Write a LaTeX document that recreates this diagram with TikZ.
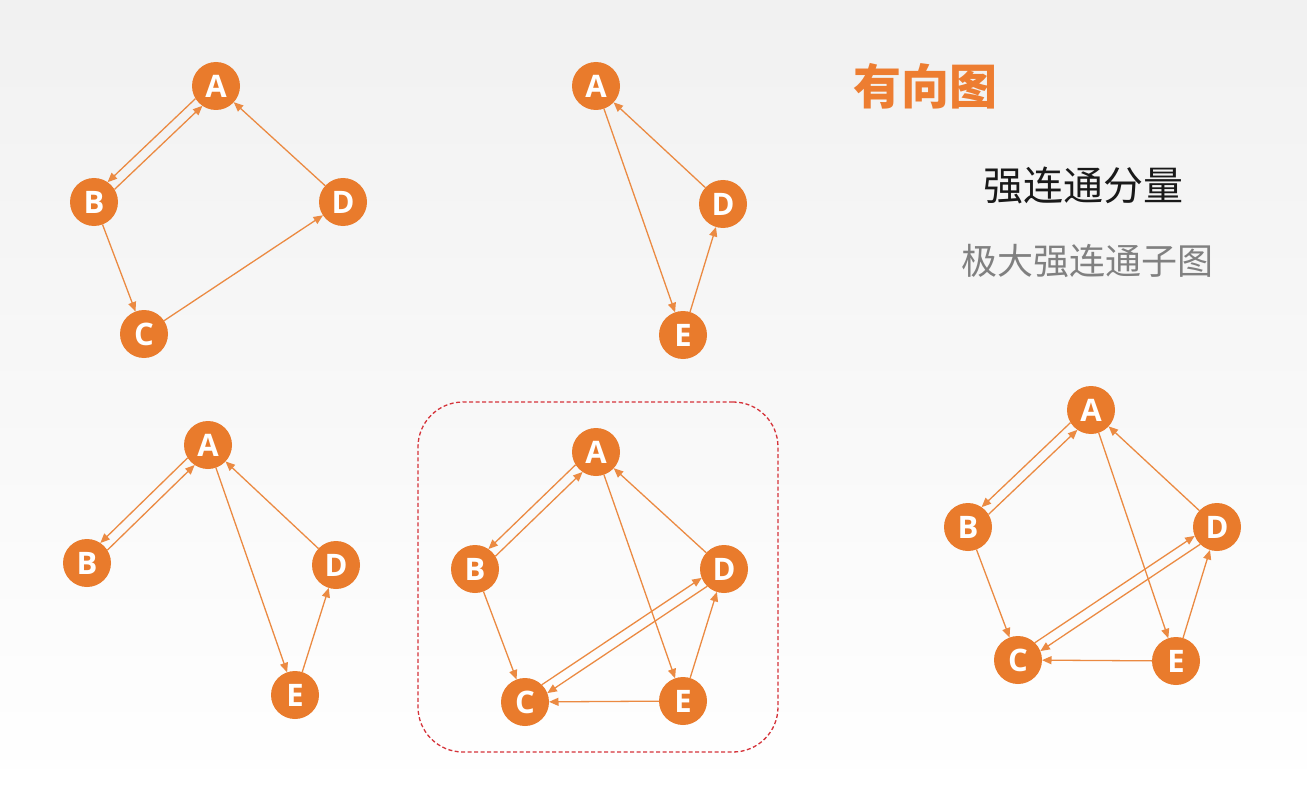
\documentclass[tikz,border=0pt]{standalone}
\usepackage{fontspec}
\usetikzlibrary{arrows.meta,calc}
\newfontfamily\latfont{Open Sans}
\newfontfamily\cjkfont{Noto Sans CJK SC}
\definecolor{nodeor}{HTML}{E97B2C}
\definecolor{lineor}{HTML}{EB8A42}
\definecolor{titleor}{HTML}{ED7D31}
\definecolor{boxred}{HTML}{D5333A}
\definecolor{subgray}{HTML}{808080}
\tikzset{
  gnode/.style={circle, fill=nodeor, minimum size=48pt, inner sep=0pt, outer sep=0pt,
    text=white, font=\latfont\bfseries\fontsize{31}{31}\selectfont},
  edge/.style={draw=lineor, line width=1.3pt, -{Triangle[length=9.5pt,width=8pt]}},
  sedge/.style={edge, shorten <=23.5pt, shorten >=23.5pt},
}
\begin{document}
\begin{tikzpicture}[x=1pt,y=-1pt]
\shade[top color=gray!11, bottom color=white] (0,0) rectangle (1307,797);
\useasboundingbox (0,0) rectangle (1307,797);

% Graph 1
\node[gnode] (a1) at (216,86) {A};
\node[gnode] (b1) at (94,202) {B};
\node[gnode] (c1) at (144,334) {C};
\node[gnode] (d1) at (343,202) {D};
\draw[sedge] ($(a1)!5pt!-90:(b1)$) -- ($(b1)!5pt!90:(a1)$);
\draw[sedge] ($(b1)!5pt!-90:(a1)$) -- ($(a1)!5pt!90:(b1)$);
\draw[edge] (b1) -- (c1);
\draw[edge] (c1) -- (d1);
\draw[edge] (d1) -- (a1);

% Graph 2
\node[gnode] (a2) at (596,86) {A};
\node[gnode] (d2) at (723,204) {D};
\node[gnode] (e2) at (683,335) {E};
\draw[edge] (a2) -- (e2);
\draw[edge] (e2) -- (d2);
\draw[edge] (d2) -- (a2);

% Graph 3
\node[gnode] (a3) at (208,445) {A};
\node[gnode] (b3) at (87,563) {B};
\node[gnode] (d3) at (336,565) {D};
\node[gnode] (e3) at (295,695) {E};
\draw[sedge] ($(a3)!5pt!-90:(b3)$) -- ($(b3)!5pt!90:(a3)$);
\draw[sedge] ($(b3)!5pt!-90:(a3)$) -- ($(a3)!5pt!90:(b3)$);
\draw[edge] (a3) -- (e3);
\draw[edge] (e3) -- (d3);
\draw[edge] (d3) -- (a3);

% Graph 4 (boxed)
\node[draw=boxred, dashed, dash pattern=on 4pt off 2.5pt, line width=1.3pt, rounded corners=45pt,
  minimum width=360pt, minimum height=350pt, inner sep=0pt] (box) at (598,577) {};
\node[gnode] (a4) at (596,452) {A};
\node[gnode] (b4) at (475,569) {B};
\node[gnode] (c4) at (525,702) {C};
\node[gnode] (d4) at (724,569) {D};
\node[gnode] (e4) at (683,701) {E};
\draw[sedge] ($(a4)!5pt!-90:(b4)$) -- ($(b4)!5pt!90:(a4)$);
\draw[sedge] ($(b4)!5pt!-90:(a4)$) -- ($(a4)!5pt!90:(b4)$);
\draw[sedge] ($(c4)!5pt!90:(d4)$) -- ($(d4)!5pt!-90:(c4)$);
\draw[sedge] ($(d4)!5pt!90:(c4)$) -- ($(c4)!5pt!-90:(d4)$);
\draw[edge] (b4) -- (c4);
\draw[edge] (a4) -- (e4);
\draw[edge] (e4) -- (d4);
\draw[edge] (d4) -- (a4);
\draw[edge] (e4) -- (c4);

% Graph 5
\node[gnode] (a5) at (1091,410) {A};
\node[gnode] (b5) at (968,527) {B};
\node[gnode] (c5) at (1018,660) {C};
\node[gnode] (d5) at (1217,527) {D};
\node[gnode] (e5) at (1176,661) {E};
\draw[sedge] ($(a5)!5pt!-90:(b5)$) -- ($(b5)!5pt!90:(a5)$);
\draw[sedge] ($(b5)!5pt!-90:(a5)$) -- ($(a5)!5pt!90:(b5)$);
\draw[sedge] ($(c5)!5pt!90:(d5)$) -- ($(d5)!5pt!-90:(c5)$);
\draw[sedge] ($(d5)!5pt!90:(c5)$) -- ($(c5)!5pt!-90:(d5)$);
\draw[edge] (b5) -- (c5);
\draw[edge] (a5) -- (e5);
\draw[edge] (e5) -- (d5);
\draw[edge] (d5) -- (a5);
\draw[edge] (e5) -- (c5);

% Texts
\node[text=titleor, font=\cjkfont\bfseries\fontsize{48}{48}\selectfont] (t1) at (925,86) {有向图};
\node[text=black!90, font=\cjkfont\fontsize{40}{40}\selectfont] (t2) at (1083,185) {强连通分量};
\node[text=subgray, font=\cjkfont\fontsize{36}{36}\selectfont] (t3) at (1087,261) {极大强连通子图};
\end{tikzpicture}
\end{document}
